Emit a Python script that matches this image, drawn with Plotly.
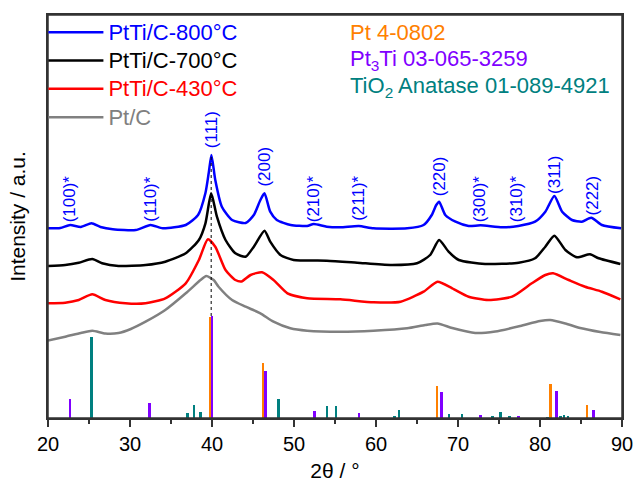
import plotly.graph_objects as go

# ---------------- data ----------------
two_theta_800 = [20.0, 21.5, 22.7, 24.0, 25.3, 26.4, 27.9, 30.7, 32.5, 34.0, 36.8, 38.3, 39.2, 39.6,
                 39.93, 40.4, 41.2, 42.45, 44.1, 45.1, 45.9, 46.4, 47.1, 47.9, 49.6, 51.6, 52.4, 54.0,
                 55.65, 57.9, 59.7, 63.8, 65.8, 66.8, 67.35, 67.7, 68.45, 69.7, 71.3, 72.75, 75.4,
                 77.35, 79.4, 80.65, 81.75, 82.7, 83.9, 85.1, 86.25, 87.55, 89.9]
inten_800 = [189.7, 190, 193, 191, 194.7, 191, 188.7, 188, 193, 189.7, 193, 203, 225, 245,
             263, 238, 211.3, 198, 195, 203, 218, 224.7, 206.3, 198, 193, 192, 194, 191.3,
             190.7, 192, 189.7, 189.7, 193, 203, 213, 216.3, 203, 196.3, 192, 192.7, 190.7,
             192, 196.3, 206.3, 222, 206.3, 198, 196.3, 200.3, 193, 189.7]

two_theta_700 = [20.0, 22.1, 23.75, 25.4, 26.6, 28.6, 31.9, 34.3, 36.8, 38.4, 39.2, 39.9, 40.6,
                 41.65, 42.85, 44.1, 45.1, 46.4, 47.1, 48.35, 49.95, 54.0, 57.7, 61.75, 65.0,
                 66.6, 67.7, 68.85, 70.1, 73.3, 77.4, 79.4, 80.65, 81.75, 83.1, 84.5, 86.1,
                 87.15, 89.8]
inten_700 = [152, 153, 155.3, 159, 154.7, 152, 153, 156.3, 164.7, 178, 194.7, 224.7, 201.3,
             178, 164.7, 161.3, 171.3, 187.3, 176.3, 163, 158, 157.3, 155.3, 153, 154.7,
             163, 178, 166.3, 158, 154, 155.3, 159.7, 171.3, 182.3, 168, 160.7, 163.7,
             159.7, 154]

two_theta_430 = [20.0, 22.1, 23.75, 25.4, 27.0, 29.45, 31.9, 34.3, 36.8, 38.4, 39.5, 40.4, 41.65,
                 42.85, 43.6, 44.7, 46.1, 47.5, 49.2, 51.6, 55.65, 59.7, 63.0, 65.8, 67.5,
                 69.3, 71.3, 73.7, 76.6, 79.0, 80.65, 81.6, 83.5, 85.5, 87.55, 89.8]
inten_430 = [114.7, 115.3, 118, 123.7, 118, 114.7, 114.7, 119.7, 134.7, 158, 178.7, 171.3, 148,
             138, 136.5, 143, 145.7, 138, 124.7, 119.7, 118.7, 115.7, 116.3, 126.3, 136.3,
             129.7, 121.3, 118, 121.3, 134.7, 143, 144.7, 138, 131.3, 126.3, 118.7]

two_theta_ptc = [20.0, 22.1, 24.0, 25.4, 27.0, 28.6, 30.1, 31.9, 34.3, 36.8, 38.6, 39.3, 40.2,
                 40.8, 42.45, 44.1, 45.9, 47.5, 49.55, 51.6, 55.65, 59.7, 63.8, 66.0, 67.5,
                 69.3, 72.1, 74.55, 77.6, 80.0, 81.25, 83.1, 84.9, 87.35, 89.8]
inten_ptc = [77.5, 81.3, 85, 87.3, 84.5, 85, 89, 96.3, 108, 124.7, 138, 142, 138,
             131.3, 118, 111.3, 104.7, 96.3, 89.7, 87.3, 86.3, 87.3, 89.7, 93, 94.5,
             90, 85, 86.5, 92, 97, 98, 94.5, 90, 86, 83]

# reference patterns (stick positions / relative heights)
pt_pos = [39.75, 46.25, 67.45, 81.3, 85.75]
pt_int = [101, 55, 32, 34, 13]

pt3ti_pos = [22.7, 32.4, 40.0, 46.55, 52.5, 57.9, 68.0, 72.75, 77.4, 82.0, 86.5]
pt3ti_int = [19, 15, 102, 47, 7.5, 5.5, 26.5, 3, 2.5, 27.5, 8]

tio2_pos = [25.3, 37.0, 37.8, 38.6, 48.1, 54.0, 55.1, 62.25, 62.8, 68.9, 70.5, 74.2, 75.2,
            76.3, 80.9, 82.5, 82.9, 83.4]
tio2_int = [81.5, 4.7, 13.5, 6.3, 18.7, 12, 11.7, 2, 7.7, 4, 4, 1.5, 5.7, 2, 1, 1.5, 2.7, 1.5]

peak_labels = ["(100)*", "(110)*", "(111)", "(200)", "(210)*", "(211)*", "(220)",
               "(300)*", "(310)*", "(311)", "(222)"]
peak_label_pos = [22.6, 32.4, 39.9, 46.45, 52.35, 57.85, 67.75, 72.6, 77.1, 81.7, 86.4]
peak_label_y = [219, 219, 288, 251.3, 219, 219.5, 241.3, 219, 219, 243, 223]

ref_names = ["Pt 4-0802", "Pt<sub>3</sub>Ti 03-065-3259", "TiO<sub>2</sub> Anatase 01-089-4921"]
ref_label_y = [386, 358, 331]

x_ticks = [20, 30, 40, 50, 60, 70, 80, 90]

# ---------------- styling ----------------
BLUE, BLACK, RED, GRAY = "#0000FF", "#000000", "#FF0000", "#808080"
ORANGE, PURPLE, TEAL = "#FF8000", "#8000FF", "#008080"
AXIS = "#333333"
FONT = "Liberation Sans, Arial, sans-serif"

fig = go.Figure()

series = [
    ("PtTi/C-800°C", two_theta_800, inten_800, BLUE),
    ("PtTi/C-700°C", two_theta_700, inten_700, BLACK),
    ("PtTi/C-430°C", two_theta_430, inten_430, RED),
    ("Pt/C", two_theta_ptc, inten_ptc, GRAY),
]
for name, xs, ys, col in series:
    fig.add_trace(go.Scatter(
        x=xs, y=ys, mode="lines",
        line=dict(color=col, width=2.5, shape="spline", smoothing=0.6),
        name=f"<span style='color:{col};font-size:22px'>{name}</span>",
    ))

# dotted guide line at the Pt(111) position
i111 = pt3ti_int.index(max(pt3ti_int))
fig.add_trace(go.Scatter(
    x=[pt3ti_pos[i111] - 0.1, pt3ti_pos[i111] - 0.1],
    y=[max(pt_int[0], pt3ti_int[i111]), max(inten_800)],
    mode="lines", line=dict(color="#000000", width=1, dash="dot"),
    showlegend=False, hoverinfo="skip",
))

for pos, ints, col in [(tio2_pos, tio2_int, TEAL), (pt_pos, pt_int, ORANGE), (pt3ti_pos, pt3ti_int, PURPLE)]:
    fig.add_trace(go.Bar(x=pos, y=ints, width=0.3, marker=dict(color=col, line=dict(width=0)),
                         showlegend=False))

for txt, px_, py_ in zip(peak_labels, peak_label_pos, peak_label_y):
    fig.add_annotation(x=px_, y=py_, text=txt, textangle=-90, showarrow=False,
                       xanchor="center", yanchor="middle",
                       font=dict(family=FONT, size=17, color=BLUE))

for txt, yy, col in zip(ref_names, ref_label_y, [ORANGE, PURPLE, TEAL]):
    fig.add_annotation(x=56.6, y=yy, text=txt, showarrow=False, xanchor="left", yanchor="middle",
                       font=dict(family=FONT, size=22, color=col))

# plot frame
fig.add_shape(type="rect", xref="paper", yref="paper", x0=0, x1=1, y0=0, y1=1,
              line=dict(color=AXIS, width=1.5), layer="above")

fig.update_layout(
    width=633, height=482,
    margin=dict(l=47.5, r=11.3, t=15, b=64, autoexpand=False),
    paper_bgcolor="white", plot_bgcolor="white",
    barmode="overlay", bargap=0,
    font=dict(family=FONT, size=18, color="#000000"),
    showlegend=True,
    legend=dict(x=-0.008, y=1.005, xanchor="left", yanchor="top",
                bgcolor="rgba(0,0,0,0)", font=dict(family=FONT, size=19.5),
                tracegroupgap=0, itemwidth=55),
)
fig.update_xaxes(
    range=[20, 90], tickvals=x_ticks, ticks="outside", ticklen=7, tickwidth=1.5,
    tickcolor=AXIS, showline=True, linecolor=AXIS, linewidth=1.5, mirror=True,
    showgrid=False, zeroline=False, automargin=False, ticklabeloverflow="allow",
    tickfont=dict(family=FONT, size=20),
    minor=dict(dtick=5, tick0=20, ticks="outside", ticklen=4, tickwidth=1.5, tickcolor=AXIS, showgrid=False),
    title=dict(text="2θ / °", font=dict(family=FONT, size=21), standoff=11),
)
fig.update_yaxes(
    range=[0, 403], showticklabels=False, ticks="", showline=True, linecolor=AXIS,
    linewidth=1.5, mirror=True, showgrid=False, zeroline=False, automargin=False,
    title=dict(text="Intensity / a.u.", font=dict(family=FONT, size=21), standoff=15),
)

# remove the default page margin so the figure fills the window exactly
fig.write_html(
    "out.html",
    config={"displayModeBar": False},
    post_script="document.body.style.margin='0';document.body.style.overflow='hidden';"
                "document.documentElement.style.overflow='hidden';",
)
